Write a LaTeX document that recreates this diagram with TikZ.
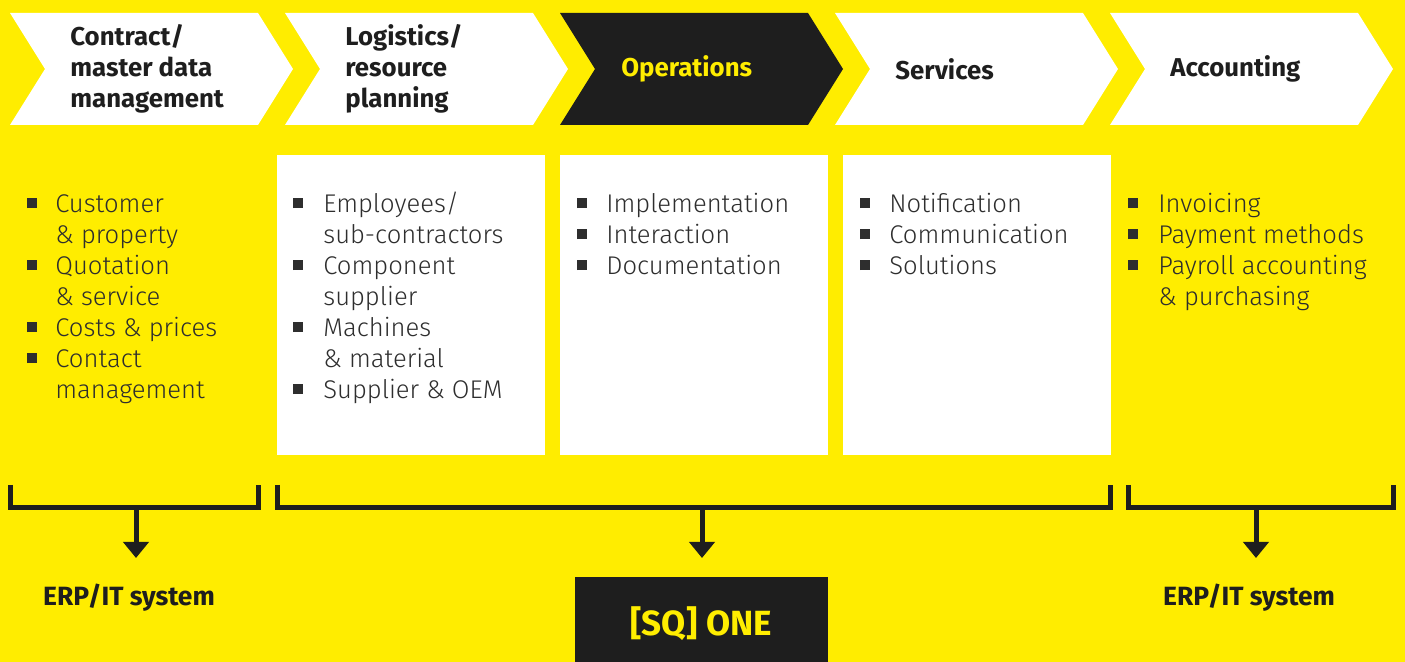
\documentclass[tikz,border=0pt]{standalone}
\usepackage{fontspec}
\setmainfont{Fira Sans}
\newfontfamily\lightfont{Fira Sans Light}
\usepackage{tikz}
\usetikzlibrary{arrows.meta, positioning}

\definecolor{sqyellow}{HTML}{FFED00}
\definecolor{sqdark}{HTML}{1E1E1E}
\definecolor{sqtext}{HTML}{2E2E2E}

\newcommand{\sqbullet}{\rule[2pt]{5pt}{5pt}}

\tikzset{
  head/.style={anchor=west, align=left, text=sqdark, font=\bfseries\fontsize{12.9}{15.5}\selectfont},
  list/.style={anchor=north west, text=sqtext, font=\lightfont\fontsize{12.8}{15.5}\selectfont},
  panel/.style={fill=white, anchor=north west, outer sep=0pt, minimum width=134pt, minimum height=150pt},
  bracket/.style={draw=sqdark, line width=2.5pt},
  down/.style={draw=sqdark, line width=2.5pt, -{Triangle[width=12.5pt, length=8pt]}},
  result/.style={text=sqdark, font=\bfseries\fontsize{13.2}{15}\selectfont},
}

\begin{document}
\begin{tikzpicture}[x=0.5pt, y=-0.5pt, every node/.style={inner sep=0pt}]
    \useasboundingbox (0,0) rectangle (1405,662);
    \fill[sqyellow] (0,0) rectangle (1405,662);

    % process chain
    \foreach \l/\c in {10/white, 285/white, 560/sqdark, 835/white, 1110/white}
        \fill[\c] (\l,13) -- ++(248,0) -- ++(35,56) -- ++(-35,56) -- ++(-248,0) -- ++(35,-56) -- cycle;

    \node (contract) [head] at (70,69) {Contract/\\master data\\management};
    \node (logistics) [head] at (345,69) {Logistics/\\resource\\planning};
    \node (operations) [head, text=sqyellow] at (621,69) {Operations};
    \node (services) [head] at (895,69) {Services};
    \node (accounting) [head] at (1170,69) {Accounting};

    % white panels under the middle steps
    \node (logpanel) [panel] at (277,155) {};
    \node (oppanel) [panel, right=7.5pt of logpanel] {};
    \node (servpanel) [panel, right=7.5pt of oppanel] {};

    % item lists
    \node (contractlist) [list] at (27,190) {\begin{tabular}{@{}p{14pt}@{}l@{}}
        \sqbullet & Customer\\ & \& property\\
        \sqbullet & Quotation\\ & \& service\\
        \sqbullet & Costs \& prices\\
        \sqbullet & Contact\\ & management
    \end{tabular}};
    \node (loglist) [list] at (293,190) {\begin{tabular}{@{}p{15pt}@{}l@{}}
        \sqbullet & Employees/\\ & sub-contractors\\
        \sqbullet & Component\\ & supplier\\
        \sqbullet & Machines\\ & \& material\\
        \sqbullet & Supplier \& OEM
    \end{tabular}};
    \node (oplist) [list] at (577,190) {\begin{tabular}{@{}p{14.5pt}@{}l@{}}
        \sqbullet & Implementation\\
        \sqbullet & Interaction\\
        \sqbullet & Documentation
    \end{tabular}};
    \node (servlist) [list] at (860,190) {\begin{tabular}{@{}p{14.5pt}@{}l@{}}
        \sqbullet & Notification\\
        \sqbullet & Communication\\
        \sqbullet & Solutions
    \end{tabular}};
    \node (acclist) [list] at (1128,190) {\begin{tabular}{@{}p{15pt}@{}l@{}}
        \sqbullet & Invoicing\\
        \sqbullet & Payment methods\\
        \sqbullet & Payroll accounting\\ & \& purchasing
    \end{tabular}};

    % brackets and targets
    \draw[bracket] (10,485) -- (10,508) -- (258,508) -- (258,485);
    \draw[bracket] (277,485) -- (277,508) -- (1110,508) -- (1110,485);
    \draw[bracket] (1128,485) -- (1128,508) -- (1393,508) -- (1393,485);

    \coordinate (leftmid) at (136,508);
    \coordinate (lefttip) at (136,558);
    \coordinate (midmid) at (702,508);
    \coordinate (midtip) at (702,558);
    \coordinate (rightmid) at (1256,508);
    \coordinate (righttip) at (1256,558);

    \node (erpleft) [result] at (129,598) {ERP/IT system};
    \node (sqone) [fill=sqdark, text=sqyellow, anchor=north, minimum width=126.5pt, minimum height=46pt,
        font=\bfseries\fontsize{17.5}{19}\selectfont] at (701.5,577) {[SQ] ONE};
    \node (erpright) [result] at (1249,598) {ERP/IT system};

    \draw[down] (leftmid) -- (lefttip);
    \draw[down] (midmid) -- (midtip);
    \draw[down] (rightmid) -- (righttip);
\end{tikzpicture}
\end{document}
